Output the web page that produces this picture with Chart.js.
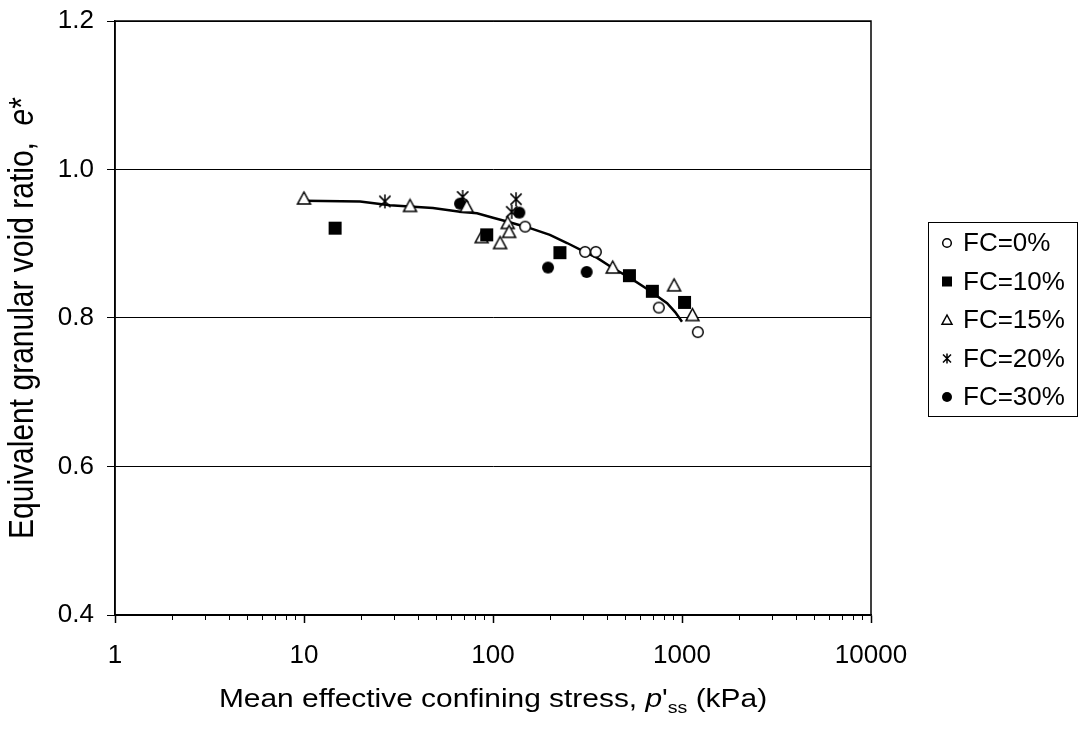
<!DOCTYPE html>
<html>
<head>
<meta charset="utf-8">
<script src="https://cdn.jsdelivr.net/npm/chart.js@4.4.1/dist/chart.umd.min.js"></script>
<style>
  html, body { margin: 0; padding: 0; background: #fff; }
  #wrap { width: 1079px; height: 730px; }
</style>
</head>
<body>
<div id="wrap"><canvas id="chart" width="1079" height="730"></canvas></div>
<script>
// 데이터
const seriesLabels = ['FC=0%', 'FC=10%', 'FC=15%', 'FC=20%', 'FC=30%'];

const fc0X = [148, 307, 350, 754, 1213];
const fc0Y = [0.923, 0.889, 0.889, 0.814, 0.781];

const fc10X = [14.6, 92.6, 226, 527, 697, 1031];
const fc10Y = [0.921, 0.912, 0.888, 0.857, 0.836, 0.821];

const fc15X = [10, 36.4, 72.6, 87.1, 109, 119.6, 121.7, 430, 908, 1136];
const fc15Y = [0.961, 0.951, 0.950, 0.909, 0.901, 0.928, 0.916, 0.868, 0.844, 0.804];

const fc20X = [26.8, 69.1, 125.6, 132.4];
const fc20Y = [0.957, 0.963, 0.943, 0.960];

const fc30X = [66.9, 137.8, 195.5, 313];
const fc30Y = [0.954, 0.942, 0.868, 0.862];

// 추세선
const curveX = [10, 19.8, 28.5, 48.1, 66.9, 82.3, 100, 118.6, 139, 157, 200, 246.6, 300, 355.5, 432, 531, 654, 834, 920, 1000];
const curveY = [0.958, 0.957, 0.952, 0.948, 0.943, 0.941, 0.935, 0.930, 0.925, 0.921, 0.912, 0.901, 0.890, 0.881, 0.867, 0.854, 0.839, 0.820, 0.808, 0.795];

// 축 눈금
const xDecades = [1, 10, 100, 1000, 10000];
const xTickLabels = ['1', '10', '100', '1000', '10000'];
const xMinorSteps = [2, 3, 4, 5, 6, 7, 8, 9];
const yTicks = [0.4, 0.6, 0.8, 1.0, 1.2];

const FONT = '"Liberation Sans", Arial, sans-serif';
const markerKinds = ['circleOpen', 'square', 'triangle', 'asterisk', 'circleFilled'];

// x 눈금 값 (10의 거듭제곱 + 보조 눈금)
const xTickValues = [];
xDecades.forEach((d, i) => {
    xTickValues.push(d);
    if (i < xDecades.length - 1) xMinorSteps.forEach(m => xTickValues.push(d * m));
});

// 마커 그리기
function drawMarker(ctx, kind, cx, cy, s) {
    const r = s / 2;
    ctx.save();
    ctx.strokeStyle = '#000';
    ctx.fillStyle = '#000';
    ctx.lineWidth = 1.5;
    ctx.beginPath();
    if (kind === 'circleOpen') {
        ctx.arc(cx, cy, r - 0.7, 0, Math.PI * 2);
        ctx.fillStyle = '#fff';
        ctx.fill();
        ctx.stroke();
    } else if (kind === 'circleFilled') {
        ctx.arc(cx, cy, r, 0, Math.PI * 2);
        ctx.fill();
    } else if (kind === 'square') {
        ctx.fillRect(cx - r, cy - r, s, s);
    } else if (kind === 'triangle') {
        ctx.moveTo(cx, cy - r);
        ctx.lineTo(cx + r, cy + r * 0.85);
        ctx.lineTo(cx - r, cy + r * 0.85);
        ctx.closePath();
        ctx.fillStyle = '#fff';
        ctx.fill();
        ctx.stroke();
    } else if (kind === 'asterisk') {
        const d = r * 0.8;
        ctx.moveTo(cx, cy - r); ctx.lineTo(cx, cy + r);
        ctx.moveTo(cx - d, cy - d); ctx.lineTo(cx + d, cy + d);
        ctx.moveTo(cx + d, cy - d); ctx.lineTo(cx - d, cy + d);
        ctx.stroke();
    }
    ctx.restore();
}

function markerCanvas(kind, s) {
    const c = document.createElement('canvas');
    c.width = s + 4;
    c.height = s + 4;
    drawMarker(c.getContext('2d'), kind, c.width / 2, c.height / 2, s);
    return c;
}

const plotMarkerSize = { circleOpen: 12, square: 13, triangle: 13, asterisk: 14, circleFilled: 12 };

function pairs(xs, ys) {
    return xs.map((x, i) => ({ x: x, y: ys[i] }));
}

// 여러 스타일이 섞인 텍스트
function drawRich(ctx, parts, size) {
    const fontOf = p => `${p.italic ? 'italic ' : ''}${p.size || size}px ${FONT}`;
    const widths = parts.map(p => { ctx.font = fontOf(p); return ctx.measureText(p.t).width; });
    const total = widths.reduce((a, b) => a + b, 0);
    let pos = -total / 2;
    parts.forEach((p, i) => {
        ctx.font = fontOf(p);
        ctx.fillText(p.t, pos, p.dy || 0);
        pos += widths[i];
    });
}

const decorPlugin = {
    id: 'decor',
    afterDraw(chart) {
        const { ctx, chartArea: a } = chart;
        const x = chart.scales.x;
        ctx.save();
        // 플롯 테두리
        ctx.strokeStyle = '#000';
        ctx.lineWidth = 1.5;
        ctx.strokeRect(a.left, a.top, a.right - a.left, a.bottom - a.top);

        // 보조 눈금
        ctx.lineWidth = 1;
        xTickValues.filter(v => !xDecades.includes(v)).forEach(v => {
            const px = Math.round(x.getPixelForValue(v)) + 0.5;
            ctx.beginPath();
            ctx.moveTo(px, a.bottom);
            ctx.lineTo(px, a.bottom + 5);
            ctx.stroke();
        });

        // 축 제목
        ctx.fillStyle = '#000';
        ctx.textBaseline = 'alphabetic';
        ctx.textAlign = 'left';
        ctx.save();
        ctx.translate((a.left + a.right) / 2, 707);
        ctx.scale(1.15, 1);
        drawRich(ctx, [
            { t: 'Mean effective confining stress, ' },
            { t: 'p', italic: true },
            { t: "'" },
            { t: 'ss', size: 17, dy: 6 },
            { t: ' (kPa)' }
        ], 26);
        ctx.restore();

        ctx.save();
        ctx.translate(33, (a.top + a.bottom) / 2);
        ctx.rotate(-Math.PI / 2);
        ctx.scale(1, 1.15);
        drawRich(ctx, [
            { t: 'Equivalent granular void ratio,  ' },
            { t: 'e', italic: true },
            { t: '*' }
        ], 30);
        ctx.restore();

        // 범례
        const lx = 928, ly = 222, lw = 149, lh = 194;
        ctx.lineWidth = 1;
        ctx.strokeRect(lx + 0.5, ly + 0.5, lw, lh);
        ctx.font = `26px ${FONT}`;
        ctx.textBaseline = 'middle';
        seriesLabels.forEach((label, i) => {
            const cy = ly + 21 + i * 38.5;
            drawMarker(ctx, markerKinds[i], lx + 19, cy, 10);
            ctx.fillText(label, lx + 35, cy + 1);
        });
        ctx.restore();
    }
};

const seriesX = [fc0X, fc10X, fc15X, fc20X, fc30X];
const seriesY = [fc0Y, fc10Y, fc15Y, fc20Y, fc30Y];

const datasets = seriesLabels.map((label, i) => ({
    label: label,
    data: pairs(seriesX[i], seriesY[i]),
    pointStyle: markerCanvas(markerKinds[i], plotMarkerSize[markerKinds[i]]),
    pointRadius: 6,
    showLine: false,
    order: i
}));

datasets.push({
    label: 'trend',
    data: pairs(curveX, curveY),
    showLine: true,
    borderColor: '#000',
    borderWidth: 2.5,
    pointRadius: 0,
    tension: 0,
    fill: false,
    order: 99
});

const isDecade = v => xDecades.includes(v);

new Chart(document.getElementById('chart').getContext('2d'), {
    type: 'scatter',
    data: { datasets: datasets },
    plugins: [decorPlugin],
    options: {
        responsive: false,
        animation: false,
        events: [],
        layout: { padding: { top: 21, right: 208, left: 0, bottom: 0 } },
        plugins: {
            legend: { display: false },
            tooltip: { enabled: false }
        },
        scales: {
            x: {
                type: 'logarithmic',
                min: 1,
                max: 10000,
                afterFit: s => { s.height = 115; s.paddingLeft = 0; s.paddingRight = 0; },
                afterBuildTicks: s => { s.ticks = xTickValues.map(v => ({ value: v })); },
                ticks: {
                    autoSkip: false,
                    maxRotation: 0,
                    padding: 17,
                    color: '#000',
                    font: { family: FONT, size: 26 },
                    callback: v => {
                        const i = xDecades.indexOf(v);
                        return i >= 0 ? xTickLabels[i] : '';
                    }
                },
                grid: {
                    drawOnChartArea: false,
                    tickLength: 8,
                    tickWidth: 1.5,
                    tickColor: c => (c.tick && isDecade(c.tick.value)) ? '#000' : 'rgba(0,0,0,0)'
                },
                border: { color: '#000', width: 1.5 }
            },
            y: {
                min: 0.4,
                max: 1.2,
                afterFit: s => { s.width = 115; s.paddingTop = 0; s.paddingBottom = 0; },
                afterBuildTicks: s => { s.ticks = yTicks.map(v => ({ value: v })); },
                ticks: {
                    padding: 13,
                    color: '#000',
                    font: { family: FONT, size: 26 },
                    callback: v => Number(v).toFixed(1)
                },
                grid: {
                    color: '#000',
                    lineWidth: 1,
                    tickLength: 8,
                    tickColor: '#000'
                },
                border: { color: '#000', width: 1.5 }
            }
        }
    }
});
</script>
</body>
</html>
